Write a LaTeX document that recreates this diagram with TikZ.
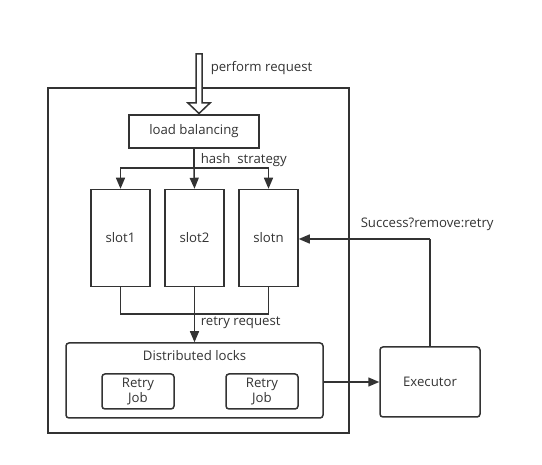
\documentclass[tikz,border=0pt]{standalone}
\usepackage{fontspec}
\setmainfont{Open Sans}
\usetikzlibrary{arrows.meta}
\definecolor{ink}{HTML}{333333}
\begin{document}
\begin{tikzpicture}[x=1pt,y=-1pt,
  line width=1.5pt, draw=ink, text=ink,
  every node/.style={font=\fontsize{13.2}{15}\selectfont, text=ink},
  box/.style={draw=ink, line width=1.5pt, inner sep=0pt},
  rbox/.style={box, rounded corners=3pt},
  arr/.style={-{Triangle[length=11pt,width=9pt]}, draw=ink, line width=1.5pt},
  lbl/.style={inner sep=0pt, anchor=west}
]
\useasboundingbox (0,0) rectangle (542,465);
% outer frame
\draw[ink] (48,88) rectangle (349,433);
% nodes
\node[box, minimum width=130pt, minimum height=33pt] (lb) at (194,131.5) {load balancing};
\node[box, minimum width=59pt, minimum height=97pt] (s1) at (120.5,238) {slot1};
\node[box, minimum width=59pt, minimum height=97pt] (s2) at (194.5,238) {slot2};
\node[box, minimum width=59pt, minimum height=97pt] (sn) at (268.5,238) {slotn};
\node[rbox, minimum width=257pt, minimum height=75pt] (dl) at (194.5,380.5) {};
\node (dlt) at (194.5,356) {Distributed locks};
\node[rbox, minimum width=72pt, minimum height=35pt, align=center, font=\fontsize{13.2}{14.5}\selectfont] (j1) at (138,391.5) {Retry\\Job};
\node[rbox, minimum width=72pt, minimum height=35pt, align=center, font=\fontsize{13.2}{14.5}\selectfont] (j2) at (262,391.5) {Retry\\Job};
\node[rbox, minimum width=100pt, minimum height=70pt] (ex) at (430,382) {Executor};
% hollow input arrow
\draw[ink, line width=1.5pt, fill=white, line join=miter]
  (196,54) -- (202,54) -- (202,103) -- (210,103) -- (199,113.5) -- (188,103) -- (196,103) -- cycle;
\node[lbl] (pr) at (210,68) {perform request};
% hash strategy distribution
\coordinate (hj) at (194,168);
\draw[ink] (lb.south) -- (hj);
\draw[arr] (hj) -| (s1.north);
\draw[arr] (hj) -- (s2.north);
\draw[arr] (hj) -| (sn.north);
\node[lbl] (hs) at (200,160) {hash\ \ strategy};
% retry request merge
\coordinate (m1) at (120.5,314);
\coordinate (mn) at (268.5,314);
\draw[ink] (s1.south) -- (m1) -- (mn) -- (sn.south);
\draw[arr] (s2.south) -- (s2.south |- dl.north);
\node[lbl] (rr) at (200,323) {retry request};
% to executor
\draw[arr] (dl.east |- ex.west) -- (ex.west);
% feedback
\coordinate (fb) at (430,239);
\draw[ink] (ex.north) -- (fb);
\draw[arr] (fb) -- (sn.east |- fb);
\node[lbl] (sr) at (360,224) {Success?remove:retry};
\end{tikzpicture}
\end{document}
